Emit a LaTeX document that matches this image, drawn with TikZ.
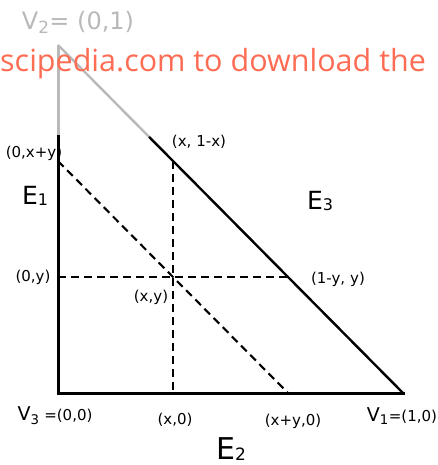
\documentclass[tikz,border=0pt]{standalone}
\usepackage{fontspec}
\setmainfont{DejaVu Sans}
\newfontfamily\wmfont{Open Sans}
\definecolor{wm}{RGB}{255,108,84}
\definecolor{fade}{RGB}{185,185,185}
\newcommand{\bigV}[1]{{\fontsize{19}{21}\selectfont V\textsubscript{#1}}}
\newcommand{\Esub}[2]{E\raisebox{-1pt}{\fontsize{#2}{#2}\selectfont #1}}
\begin{document}
\begin{tikzpicture}[x=1pt,y=-1pt,
  edge/.style={line width=3pt},
  hyp/.style={line width=2.4pt},
  dashline/.style={line width=2.1pt,dash pattern=on 8pt off 5pt},
  lbl/.style={font=\fontsize{15}{17}\selectfont,inner sep=0pt},
  big/.style={font=\fontsize{25}{27}\selectfont,inner sep=0pt,anchor=base}]
\useasboundingbox (0,0) rectangle (438,465);
\begin{scope}[shift={(58,393)},x=345pt,y=348pt]
  \coordinate (V3) at (0,0);
  \coordinate (V1) at (1,0);
  \coordinate (V2) at (0,1);
  \coordinate (G1) at (0,0.736);
  \coordinate (G2) at (0.264,0.736);
  \coordinate (Pxy) at (1/3,1/3);
  \coordinate (P0xy) at (0,2/3);
  \coordinate (Pxy0) at (2/3,0);
  \coordinate (P0y) at (0,1/3);
  \coordinate (P1y) at (2/3,1/3);
  \coordinate (Px1) at (1/3,2/3);
  \coordinate (Px0) at (1/3,0);
\end{scope}
% triangle
\draw[edge,fade] (V2) -- (G1);
\draw[hyp,fade] (V2) -- (G2);
\draw[edge,line cap=rect] (G1) -- (V3) -- (V1);
\draw[hyp] (V1) -- (G2);
% dashed lines
\draw[dashline] (P0xy) -- (Pxy0);
\draw[dashline] (P0y) -- (P1y);
\draw[dashline] (Px1) -- (Px0);
% labels
\node[inner sep=0pt,text=fade,font=\fontsize{24}{26}\selectfont] (lV2) at (78,22) {V\textsubscript{2}= (0,1)};
\node[lbl] (lx1) at (199,142) {(x,\,\,1-x)};
\node[lbl] (l0xy) at (34,153) {(0,x+y)};
\node[big] (lE1) at (35,204) {\Esub{1}{16}};
\node[big] (lE3) at (320,209) {\Esub{3}{16}};
\node[lbl] (l0y) at (33,277) {(0,y)};
\node[lbl] (lxy) at (151,297) {(x,y)};
\node[lbl] (l1y) at (338,279) {(1-y,\,\,y)};
\node[lbl] (lV3) at (55,416) {\bigV{3} =(0,0)};
\node[lbl] (lx0) at (175,420) {(x,0)};
\node[lbl] (lxy0) at (293,421) {(x+y,0)};
\node[lbl] (lV1) at (402,416) {\bigV{1}=(1,0)};
\node[big,font=\fontsize{30}{32}\selectfont,text depth=0pt] (lE2) at (231,459) {\Esub{2}{17}};
% watermark
\node[anchor=base west,inner sep=0pt,text=wm,font=\wmfont\fontsize{30.5}{33}\selectfont] (wmk) at (0,72) {scipedia.com to download the};
\end{tikzpicture}
\end{document}
